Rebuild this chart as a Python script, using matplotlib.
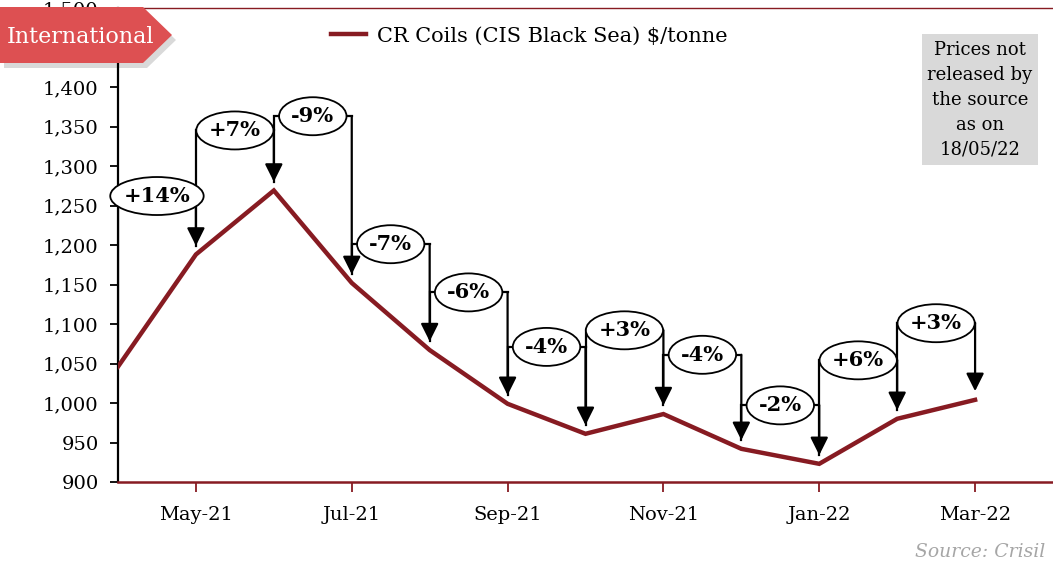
import matplotlib
matplotlib.use("Agg")
import matplotlib.pyplot as plt
from matplotlib.patches import Polygon, Rectangle, Ellipse

W, H = 1053, 571

months = ["Apr-21", "May-21", "Jun-21", "Jul-21", "Aug-21", "Sep-21",
          "Oct-21", "Nov-21", "Dec-21", "Jan-22", "Feb-22", "Mar-22"]
prices = [1046, 1188, 1269, 1152, 1067, 999, 961, 986, 942, 923, 980, 1004]
change_labels = ["+14%", "+7%", "-9%", "-7%", "-6%", "-4%",
                 "+3%", "-4%", "-2%", "+6%", "+3%"]
bracket_tops = [1262, 1345, 1363, 1201, 1140, 1071, 1092, 1061, 997, 1054, 1101]
yticks = list(range(900, 1501, 50))

maroon = "#871B22"
plt.rcParams["font.family"] = ["DejaVu Serif"]


def px(x, y):
    # pixel coords (top-left origin) -> figure fraction
    return (x / W, 1 - y / H)


fig = plt.figure(figsize=(W / 100, H / 100), dpi=100)
ax = fig.add_axes([118 / W, 1 - 482 / H, 1 - 118 / W, (482 - 8) / H])
ax.set_xlim(0, 12)
ax.set_ylim(900, 1500)

xs = list(range(len(months)))
line, = ax.plot(xs, prices, color=maroon, lw=3.2, solid_joinstyle="miter",
                label="CR Coils (CIS Black Sea) $/tonne", zorder=3)

renderer = fig.canvas.get_renderer()
ppx = ax.bbox.width / 12     # pixels per month
ppy = ax.bbox.height / 600   # pixels per $

# elbow arrows with % change
gap = 11
for i, lab in enumerate(change_labels):
    x0, x1 = xs[i], xs[i + 1]
    h = bracket_tops[i]
    ax.plot([x0, x0, x1], [prices[i] + gap, h, h], color="black", lw=1.6,
            solid_joinstyle="miter", zorder=4)
    ax.annotate("", xy=(x1, prices[i + 1] + gap), xytext=(x1, h),
                arrowprops=dict(arrowstyle="-|>,head_length=0.6,head_width=0.3",
                                mutation_scale=18, lw=1.6, color="black",
                                shrinkA=0, shrinkB=0), zorder=4)
    t = ax.text((x0 + x1) / 2, h, lab, ha="center", va="center", fontsize=15,
                fontweight="bold", zorder=6)
    tw = t.get_window_extent(renderer).width
    ax.add_patch(Ellipse(((x0 + x1) / 2, h), (tw * 1.1 + 20) / ppx, 38 / ppy,
                         fc="white", ec="black", lw=1.3, zorder=5, clip_on=False))

ax.set_yticks(yticks)
ax.set_yticklabels([f"{v:,}" for v in yticks], fontsize=14)
ax.set_xticks(xs[1::2])
ax.set_xticklabels(months[1::2], fontsize=14)
ax.tick_params(axis="y", direction="out", length=6, width=1.3, color="black", pad=8)
ax.tick_params(axis="x", direction="out", length=7, width=1.3, color=maroon, pad=10)

ax.spines["right"].set_visible(False)
ax.spines["left"].set_color("black")
ax.spines["left"].set_linewidth(1.6)
ax.spines["bottom"].set_color(maroon)
ax.spines["bottom"].set_linewidth(1.8)
ax.spines["top"].set_color(maroon)
ax.spines["top"].set_linewidth(1.0)

ax.legend(handles=[line], loc="center", bbox_to_anchor=px(529, 36),
          bbox_transform=fig.transFigure, frameon=False, fontsize=15,
          handlelength=1.7, handletextpad=0.5)

# "International" banner
pts = [(0, 7), (143, 7), (172, 35), (143, 63), (0, 63)]
fig.patches.append(Polygon([px(x + 4, y + 5) for x, y in pts], closed=True,
                           transform=fig.transFigure, fc="#000000", alpha=0.15,
                           ec="none", zorder=10))
fig.patches.append(Polygon([px(x, y) for x, y in pts], closed=True,
                           transform=fig.transFigure, fc="#DD5052", ec="none", zorder=11))
fig.text(*px(7, 37), "International", color="white", fontsize=16,
         ha="left", va="center", zorder=12)

# note box
fig.patches.append(Rectangle(px(922, 165), 116 / W, 131 / H,
                             transform=fig.transFigure, fc="#D9D9D9", ec="none", zorder=10))
fig.text(*px(980, 100), "Prices not\nreleased by\nthe source\nas on\n18/05/22",
         ha="center", va="center", fontsize=13, linespacing=1.5, zorder=12)

fig.text(*px(1045, 552), "Source: Crisil", ha="right", va="center", fontsize=13.5,
         style="italic", color="#A6A6A6")

fig.savefig("out.png", dpi=100)
